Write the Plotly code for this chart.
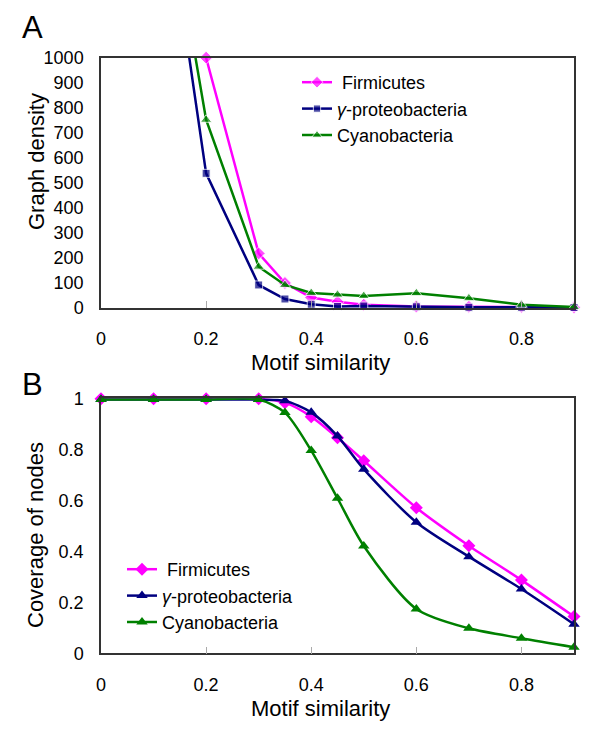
import plotly.graph_objects as go

# ---------------- data ----------------
sim_a = [0.1, 0.2, 0.3, 0.35, 0.4, 0.45, 0.5, 0.6, 0.7, 0.8, 0.9]
dens_firm = [2400, 1000, 218, 100, 42, 25, 13, 6, 5, 5, 3]
dens_gamma = [1980, 538, 92, 36, 15, 6, 8, 5, 3, 3, 2]
dens_cyano = [1980, 752, 165, 92, 60, 53, 48, 59, 39, 13, 4]

sim_b = [0, 0.1, 0.2, 0.3, 0.35, 0.4, 0.45, 0.5, 0.6, 0.7, 0.8, 0.9]
cov_firm = [0.998, 0.998, 0.998, 0.998, 0.983, 0.928, 0.845, 0.755, 0.571, 0.422, 0.287, 0.144]
cov_gamma = [0.995, 0.995, 0.995, 0.995, 0.99, 0.945, 0.852, 0.722, 0.514, 0.379, 0.252, 0.114]
cov_cyano = [0.995, 0.995, 0.995, 0.995, 0.944, 0.795, 0.608, 0.421, 0.174, 0.098, 0.059, 0.024]

names = [" Firmicutes", "<i>γ</i>-proteobacteria", "Cyanobacteria"]
x_ticks = [0, 0.2, 0.4, 0.6, 0.8]

# ---------------- style ----------------
W, H = 600, 733
OFF = 8  # page body margin
MAGENTA, NAVY, GREEN = "#FF00FF", "#000080", "#008000"
FONT = "Liberation Sans, Arial, sans-serif"

def py(p):  # window pixel y -> paper y (margins are 0)
    return 1 - (p - OFF) / H

def px(p):
    return (p - OFF) / W

fig = go.Figure()

def sizes(vals, s, ymax):
    return [0 if v > ymax else s for v in vals]

a_series = [(dens_firm, MAGENTA, "diamond", 10),
            (dens_gamma, NAVY, "square", 8),
            (dens_cyano, GREEN, "triangle-up", 10)]
for (vals, col, sym, s), nm in zip(a_series, names):
    fig.add_trace(go.Scatter(
        x=sim_a, y=vals, name=nm, mode="lines+markers",
        line=dict(color=col, width=2.5),
        marker=dict(color=col, symbol=sym, size=sizes(vals, s, 1000)),
        cliponaxis=False, xaxis="x", yaxis="y", legend="legend"))

b_series = [(cov_firm, MAGENTA, "diamond", 10),
            (cov_gamma, NAVY, "triangle-up", 10),
            (cov_cyano, GREEN, "triangle-up", 10)]
for (vals, col, sym, s), nm in zip(b_series, names):
    fig.add_trace(go.Scatter(
        x=sim_b, y=vals, name=nm, mode="lines+markers",
        line=dict(color=col, width=2.5, shape="spline", smoothing=0.8),
        marker=dict(color=col, symbol=sym, size=s),
        cliponaxis=False, xaxis="x2", yaxis="y2", legend="legend2"))

xa = dict(range=[0, 0.9], tickvals=x_ticks, ticktext=[f"{t:g}" for t in x_ticks],
          ticks="inside", ticklen=7, tickcolor="#aaaaaa", tickwidth=1,
          showline=True, linecolor="#333333", linewidth=1.5, mirror=True,
          showgrid=False, zeroline=False, ticklabelstandoff=14, automargin=False,
          tickfont=dict(size=18, color="black", family=FONT),
          domain=[px(101), px(574)])
ya_common = dict(showline=True, linecolor="#333333", linewidth=1.5, mirror=True,
                 showgrid=False, zeroline=False, ticks="", ticklabelstandoff=12,
                 automargin=False,
                 tickfont=dict(size=18, color="black", family=FONT))

fig.update_layout(
    width=W, height=H,
    margin=dict(l=0, r=0, t=0, b=0, autoexpand=False),
    paper_bgcolor="white", plot_bgcolor="white",
    font=dict(family=FONT, size=18, color="black"),
    xaxis=dict(**xa, anchor="y"),
    yaxis=dict(**ya_common, range=[0, 1000], dtick=100,
               domain=[py(308), py(57.7)], anchor="x"),
    xaxis2=dict(**xa, anchor="y2"),
    yaxis2=dict(**ya_common, range=[0, 1], dtick=0.2,
                domain=[py(653.3), py(398.3)], anchor="x2"),
    legend=dict(x=px(297), y=py(64), xanchor="left", yanchor="top",
                bgcolor="rgba(0,0,0,0)", font=dict(size=18, family=FONT),
                tracegroupgap=0, itemwidth=30),
    legend2=dict(x=px(122), y=py(551), xanchor="left", yanchor="top",
                 bgcolor="rgba(0,0,0,0)", font=dict(size=18, family=FONT),
                 tracegroupgap=0, itemwidth=30),
    showlegend=True,
)

ann = [
    dict(text="A", x=px(32), y=py(28), font=dict(size=31)),
    dict(text="B", x=px(32), y=py(384), font=dict(size=31)),
    dict(text="Graph density", x=px(36), y=py(162), textangle=-90, font=dict(size=22)),
    dict(text="Coverage of nodes", x=px(35), y=py(535), textangle=-90, font=dict(size=22)),
    dict(text="Motif similarity", x=px(320), y=py(362), font=dict(size=22)),
    dict(text="Motif similarity", x=px(320), y=py(708), font=dict(size=22)),
]
for a in ann:
    fig.add_annotation(xref="paper", yref="paper", showarrow=False,
                       xanchor="center", yanchor="middle", **a)

fig.write_html("out.html")
